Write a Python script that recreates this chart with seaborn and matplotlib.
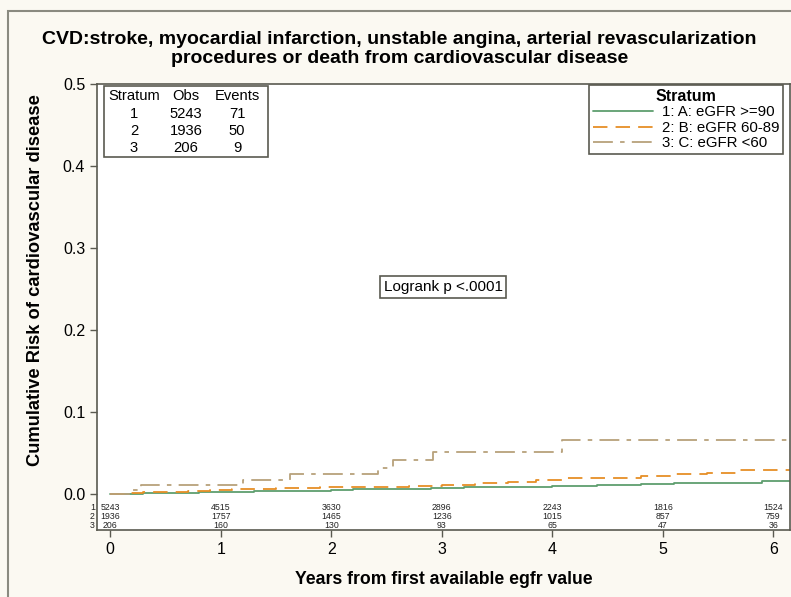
import pandas as pd
import matplotlib
matplotlib.use("Agg")
import matplotlib.pyplot as plt
import seaborn as sns
from matplotlib.patches import Rectangle
from matplotlib.lines import Line2D

# step curves (years, cumulative risk)
s1_time = [0, 0.1, 0.3, 0.5, 0.8, 1.0, 1.3, 1.6, 2.0, 2.2, 2.5, 2.9, 3.2, 3.6,
           4.0, 4.4, 4.8, 5.1, 5.5, 5.9, 6.15]
s1_risk = [0, 0.0005, 0.001, 0.0015, 0.002, 0.003, 0.0035, 0.004, 0.0045, 0.006,
           0.0065, 0.007, 0.008, 0.009, 0.010, 0.011, 0.012, 0.013, 0.014, 0.016, 0.016]

s2_time = [0, 0.15, 0.3, 0.45, 0.7, 0.9, 1.1, 1.5, 1.9, 2.3, 2.7, 3.0, 3.3, 3.6,
           3.85, 4.1, 4.5, 4.8, 5.1, 5.4, 5.7, 6.15]
s2_risk = [0, 0.001, 0.002, 0.003, 0.004, 0.005, 0.006, 0.007, 0.008, 0.009, 0.010,
           0.011, 0.013, 0.015, 0.017, 0.019, 0.020, 0.022, 0.024, 0.026, 0.029, 0.029]

s3_time = [0, 0.2, 0.28, 1.2, 1.63, 2.42, 2.56, 2.92, 4.09, 6.15]
s3_risk = [0, 0.005, 0.0105, 0.0165, 0.024, 0.032, 0.042, 0.051, 0.066, 0.066]

strata = ["1: A: eGFR >=90", "2: B: eGFR 60-89", "3: C: eGFR <60"]
colors = ["#5E9E6E", "#E68F26", "#B7A17B"]

# numbers at risk under the ticks
risk_years = [0, 1, 2, 3, 4, 5, 6]
at_risk_1 = [5243, 4515, 3630, 2896, 2243, 1816, 1524]
at_risk_2 = [1936, 1757, 1465, 1236, 1015, 857, 759]
at_risk_3 = [206, 160, 130, 93, 65, 47, 36]

summary_stratum = ["1", "2", "3"]
summary_obs = [5243, 1936, 206]
summary_events = [71, 50, 9]

frames = []
for name, t, r in zip(strata, [s1_time, s2_time, s3_time], [s1_risk, s2_risk, s3_risk]):
    frames.append(pd.DataFrame({"time": t, "risk": r, "stratum": name}))
df = pd.concat(frames, ignore_index=True)

sns.set_theme(style="white")
plt.rcParams["font.family"] = ["Liberation Sans", "DejaVu Sans"]
plt.rcParams["text.color"] = "black"
plt.rcParams["axes.labelcolor"] = "black"

bg = "#FBF9F2"
edge = "#5A5A50"
dash2 = (8, 4.5)
dash3 = (11, 4, 2.5, 4)

fig = plt.figure(figsize=(7.91, 5.97), dpi=100, facecolor=bg)
ax = fig.add_axes([97 / 791, (597 - 530) / 597, 693 / 791, 446 / 597])
ax.set_facecolor("white")

sns.lineplot(data=df, x="time", y="risk", hue="stratum", style="stratum",
             palette=dict(zip(strata, colors)),
             dashes={strata[0]: "", strata[1]: dash2, strata[2]: dash3},
             drawstyle="steps-post", estimator=None, lw=1.3, ax=ax, legend=False)

ax.set_xlim(-0.12, 6.15)
ax.set_ylim(-0.0439, 0.5)
ax.set_xticks(risk_years)
ax.set_yticks([0, 0.1, 0.2, 0.3, 0.4, 0.5])
ax.set_yticklabels(["0.0", "0.1", "0.2", "0.3", "0.4", "0.5"])
ax.tick_params(axis="both", direction="out", length=5, width=1, color=edge,
               labelsize=11.5, labelcolor="black", left=True, bottom=True)
for sp in ax.spines.values():
    sp.set_color(edge)
    sp.set_linewidth(1.2)

ax.set_xlabel("Years from first available egfr value", fontsize=12.7, fontweight="bold", labelpad=10)
ax.set_ylabel("Cumulative Risk of cardiovascular disease", fontsize=13.2, fontweight="bold")
ax.yaxis.set_label_coords(-0.0765, 0.56)

fig.suptitle("CVD:stroke, myocardial infarction, unstable angina, arterial revascularization\n"
             "procedures or death from cardiovascular disease",
             x=0.505, y=0.948, fontsize=14, fontweight="bold", linespacing=1.12)

# numbers at risk
for row, (vals, yv) in enumerate(zip([at_risk_1, at_risk_2, at_risk_3], [-0.017, -0.028, -0.039])):
    for x, v in zip(risk_years, vals):
        ax.text(x, yv, str(v), ha="center", va="center", fontsize=6.3, color="#222222")
    ax.text(-0.003, yv, str(row + 1), transform=ax.get_yaxis_transform(), ha="right",
            va="center", fontsize=6.3, color="#222222", clip_on=False)

# summary table top-left
ax.add_patch(Rectangle((0.010, 0.836), 0.237, 0.16, transform=ax.transAxes,
                       fill=True, facecolor="white", edgecolor=edge, lw=1.2, zorder=3))
col_x = [(134 - 97) / 693, (186 - 97) / 693, (237 - 97) / 693]
row_y = [(530 - 96) / 446, (530 - 114) / 446, (530 - 131) / 446, (530 - 148) / 446]
for cx, head in zip(col_x, ["Stratum", "Obs", "Events"]):
    ax.text(cx, row_y[0], head, transform=ax.transAxes, ha="center", va="center",
            fontsize=10.6, zorder=4)
for i in range(3):
    for cx, val in zip(col_x, [summary_stratum[i], summary_obs[i], summary_events[i]]):
        ax.text(cx, row_y[i + 1], str(val), transform=ax.transAxes, ha="center",
                va="center", fontsize=10.6, zorder=4)

# legend
handles = [Line2D([], [], color=colors[0], lw=1.3),
           Line2D([], [], color=colors[1], lw=1.3, dashes=dash2),
           Line2D([], [], color=colors[2], lw=1.3, dashes=dash3)]
leg = ax.legend(handles, strata, loc="upper right",
                bbox_to_anchor=((783 - 97) / 693, (530 - 85) / 446),
                title="Stratum", title_fontproperties={"weight": "bold", "size": 11.5},
                fontsize=10.8, frameon=True, fancybox=False, framealpha=1,
                edgecolor=edge, handlelength=4.0, borderpad=0.25, labelspacing=0.1,
                handletextpad=0.6, borderaxespad=0)
leg.get_frame().set_linewidth(1.2)

ax.text((443 - 97) / 693, (530 - 287) / 446, "Logrank p <.0001", transform=ax.transAxes,
        ha="center", va="center", fontsize=11,
        bbox=dict(boxstyle="square,pad=0.25", facecolor="white", edgecolor=edge, lw=1.2))

# outer frame of the graph area
fig.add_artist(Rectangle((8 / 791, -0.1), 1.2, (597 - 11) / 597 + 0.1,
                         transform=fig.transFigure, fill=False, edgecolor="#8A8A80", lw=1.5))

fig.savefig("out.png", dpi=100, facecolor=bg)
